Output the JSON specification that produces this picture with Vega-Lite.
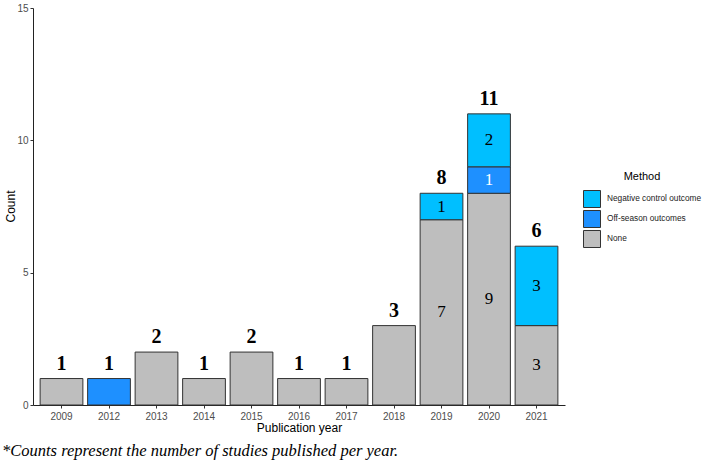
{
  "$schema": "https://vega.github.io/schema/vega-lite/v6.json",
  "width": 532,
  "height": 397,
  "autosize": {"type": "none"},
  "padding": {"left": 33, "top": 8, "right": 144, "bottom": 63},
  "background": "white",
  "config": {"view": {"stroke": null}, "font": "Liberation Sans"},
  "title": {
    "text": "*Counts represent the number of studies published per year.",
    "orient": "bottom",
    "anchor": "start",
    "frame": "group",
    "font": "Liberation Serif",
    "fontStyle": "italic",
    "fontWeight": "normal",
    "fontSize": 16.5,
    "color": "black",
    "dx": -31,
    "offset": 10
  },
  "datasets": {
    "counts": [
      {"year": 2009, "method": "None", "count": 1, "label": ""},
      {"year": 2012, "method": "Off-season outcomes", "count": 1, "label": ""},
      {"year": 2013, "method": "None", "count": 2, "label": ""},
      {"year": 2014, "method": "None", "count": 1, "label": ""},
      {"year": 2015, "method": "None", "count": 2, "label": ""},
      {"year": 2016, "method": "None", "count": 1, "label": ""},
      {"year": 2017, "method": "None", "count": 1, "label": ""},
      {"year": 2018, "method": "None", "count": 3, "label": ""},
      {"year": 2019, "method": "None", "count": 7, "label": "7"},
      {"year": 2019, "method": "Negative control outcome", "count": 1, "label": "1"},
      {"year": 2020, "method": "None", "count": 8, "label": "9"},
      {"year": 2020, "method": "Off-season outcomes", "count": 1, "label": "1"},
      {"year": 2020, "method": "Negative control outcome", "count": 2, "label": "2"},
      {"year": 2021, "method": "None", "count": 3, "label": "3"},
      {"year": 2021, "method": "Negative control outcome", "count": 3, "label": "3"}
    ],
    "totals": [
      {"year": 2009, "total": 1},
      {"year": 2012, "total": 1},
      {"year": 2013, "total": 2},
      {"year": 2014, "total": 1},
      {"year": 2015, "total": 2},
      {"year": 2016, "total": 1},
      {"year": 2017, "total": 1},
      {"year": 2018, "total": 3},
      {"year": 2019, "total": 8},
      {"year": 2020, "total": 11},
      {"year": 2021, "total": 6}
    ]
  },
  "layer": [
    {
      "data": {"name": "counts"},
      "transform": [
        {"calculate": "indexof(['None','Off-season outcomes','Negative control outcome'], datum.method)", "as": "rank"}
      ],
      "mark": {"type": "bar", "stroke": "#333333", "strokeWidth": 1},
      "encoding": {
        "x": {
          "field": "year",
          "type": "nominal",
          "scale": {"paddingInner": 0.1, "paddingOuter": 0.15},
          "axis": {
            "title": "Publication year",
            "labelAngle": 0,
            "labelColor": "#4D4D4D",
            "labelFontSize": 10,
            "labelPadding": 3,
            "tickSize": 3,
            "tickColor": "#333333",
            "domainColor": "#222222",
            "titleFontSize": 12,
            "titleFontWeight": "normal",
            "titleColor": "black",
            "titlePadding": 1
          }
        },
        "y": {
          "field": "count",
          "type": "quantitative",
          "stack": "zero",
          "scale": {"domain": [0, 15], "nice": false},
          "axis": {
            "title": "Count",
            "values": [0, 5, 10, 15],
            "grid": false,
            "labelColor": "#4D4D4D",
            "labelFontSize": 10,
            "labelPadding": 2,
            "tickSize": 3,
            "tickColor": "#333333",
            "domainColor": "#222222",
            "titleFontSize": 12,
            "titleFontWeight": "normal",
            "titleColor": "black",
            "titleX": -23,
            "titleY": 198,
            "titleAngle": -90,
            "titleAlign": "center",
            "titleBaseline": "middle"
          }
        },
        "color": {
          "field": "method",
          "type": "nominal",
          "scale": {
            "domain": ["Negative control outcome", "Off-season outcomes", "None"],
            "range": ["#00BFFF", "#1E90FF", "#BEBEBE"]
          },
          "legend": {
            "title": "Method",
            "orient": "none",
            "legendX": 550,
            "legendY": 163,
            "titleFontSize": 11,
            "titleFontWeight": "normal",
            "titleColor": "black",
            "titleAnchor": "middle",
            "titlePadding": 8,
            "labelFontSize": 8.3,
            "labelColor": "#222222",
            "labelOffset": 6,
            "symbolType": "square",
            "symbolSize": 289,
            "symbolStrokeColor": "#333333",
            "symbolStrokeWidth": 1,
            "symbolOpacity": 1,
            "rowPadding": -4
          }
        },
        "order": {"field": "rank", "type": "quantitative", "sort": "ascending"}
      }
    },
    {
      "data": {"name": "counts"},
      "transform": [
        {"calculate": "indexof(['None','Off-season outcomes','Negative control outcome'], datum.method)", "as": "rank"},
        {"stack": "count", "groupby": ["year"], "sort": [{"field": "rank", "order": "ascending"}], "as": ["y0", "y1"]},
        {"calculate": "(datum.y0 + datum.y1) / 2", "as": "ymid"}
      ],
      "mark": {"type": "text", "font": "Liberation Serif", "fontSize": 17, "baseline": "middle"},
      "encoding": {
        "x": {"field": "year", "type": "nominal"},
        "y": {"field": "ymid", "type": "quantitative"},
        "text": {"field": "label"},
        "color": {
          "condition": {"test": "datum.method === 'Off-season outcomes'", "value": "white"},
          "value": "black"
        }
      }
    },
    {
      "data": {"name": "totals"},
      "mark": {"type": "text", "font": "Liberation Serif", "fontWeight": "bold", "fontSize": 20, "baseline": "middle", "dy": -15, "color": "black"},
      "encoding": {
        "x": {"field": "year", "type": "nominal"},
        "y": {"field": "total", "type": "quantitative"},
        "text": {"field": "total"}
      }
    }
  ]
}
